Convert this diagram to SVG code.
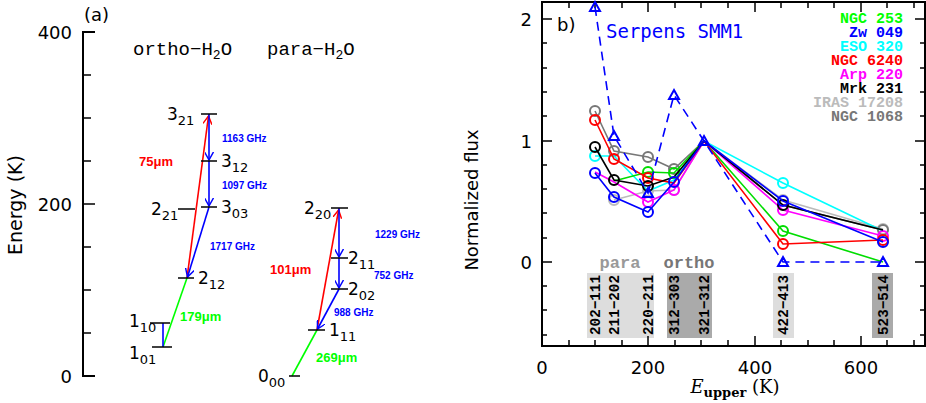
<svg xmlns="http://www.w3.org/2000/svg" width="926" height="403" viewBox="0 0 926 403">
<style>
text{font-family:"Liberation Mono","DejaVu Sans Mono",monospace}
.ax{stroke:#000;stroke-width:2;fill:none}
.tk{stroke:#000;stroke-width:1.5}
.lv{stroke:#000;stroke-width:1.5}
.num{font-family:"DejaVu Sans","Liberation Sans",sans-serif;font-size:18px}
.lvl{font-family:"DejaVu Sans","Liberation Sans",sans-serif;font-size:17px}
.sub{font-size:13px}
.ghz{font-family:"Liberation Sans",sans-serif;font-weight:bold;font-size:10px;fill:#00f}
.um{font-family:"Liberation Sans",sans-serif;font-weight:bold;font-size:13px}
.c{fill:none;stroke-width:2}
.s{fill:none;stroke-width:1.6}
.leg{font-weight:bold;font-size:15px;text-anchor:end}
.rl{font-family:"Liberation Sans",sans-serif;font-weight:bold;font-size:15px}
</style>
<defs>
<marker id="ab" viewBox="0 0 10 10" refX="9" refY="5" markerWidth="9" markerHeight="9" markerUnits="userSpaceOnUse" orient="auto"><path d="M0,0 L9,5 L0,10" fill="none" stroke="#00f" stroke-width="1.6"/></marker>
<marker id="ar" viewBox="0 0 10 10" refX="9" refY="5" markerWidth="9" markerHeight="9" markerUnits="userSpaceOnUse" orient="auto"><path d="M0,0 L9,5 L0,10" fill="none" stroke="#f00" stroke-width="1.6"/></marker>
</defs>
<rect width="926" height="403" fill="#fff"/>

<g id="axis-a">
<path class="ax" d="M95,32 H83 V376 H95"/>
<path class="tk" d="M83,75 H91 M83,118 H91 M83,161 H91 M83,204 H95 M83,247 H91 M83,290 H91 M83,333 H91"/>
<text class="num" x="72" y="39" text-anchor="end">400</text>
<text class="num" x="72" y="211" text-anchor="end">200</text>
<text class="num" x="72" y="383" text-anchor="end">0</text>
<text x="22" y="205" text-anchor="middle" transform="rotate(-90 22 205)" style="font-family:'DejaVu Sans',sans-serif;font-size:19px">Energy (K)</text>
<text x="84" y="21" style="font-family:'DejaVu Sans',sans-serif;font-size:18px">(a)</text>
<text x="133" y="55" font-size="19">ortho−H<tspan font-size="13" dy="4">2</tspan><tspan dy="-4">O</tspan></text>
<text x="267" y="55" font-size="19">para−H<tspan font-size="13" dy="4">2</tspan><tspan dy="-4">O</tspan></text>
</g>

<g id="connectors-a" stroke-width="1.6" fill="none">
<line x1="187" y1="278" x2="208.5" y2="116" stroke="#f00" marker-end="url(#ar)"/>
<line x1="209" y1="114" x2="209" y2="160" stroke="#00f" marker-end="url(#ab)"/>
<line x1="209" y1="161" x2="209" y2="206" stroke="#00f" marker-end="url(#ab)"/>
<line x1="209" y1="207" x2="187.5" y2="277" stroke="#00f" marker-end="url(#ab)"/>
<line x1="163" y1="347" x2="187" y2="278" stroke="#0f0"/>
<line x1="163" y1="323" x2="163" y2="347" stroke="#00f"/>
<line x1="317" y1="330" x2="338.6" y2="210" stroke="#f00" marker-end="url(#ar)"/>
<line x1="339" y1="208" x2="339" y2="257" stroke="#00f" marker-end="url(#ab)"/>
<line x1="339" y1="258" x2="339" y2="288" stroke="#00f" marker-end="url(#ab)"/>
<line x1="339" y1="289" x2="317.5" y2="329" stroke="#00f" marker-end="url(#ab)"/>
<line x1="292" y1="376" x2="317" y2="330" stroke="#0f0"/>
</g>

<g id="lv-321"><line class="lv" x1="201" y1="114" x2="217" y2="114"/><text class="lvl" x="167" y="120">3<tspan class="sub" dy="5">21</tspan></text></g>
<g id="lv-312"><line class="lv" x1="201" y1="161" x2="217" y2="161"/><text class="lvl" x="221" y="167">3<tspan class="sub" dy="5">12</tspan></text></g>
<g id="lv-221"><line class="lv" x1="178" y1="209" x2="195" y2="209"/><text class="lvl" x="151" y="215">2<tspan class="sub" dy="5">21</tspan></text></g>
<g id="lv-303"><line class="lv" x1="201" y1="207" x2="217" y2="207"/><text class="lvl" x="221" y="213">3<tspan class="sub" dy="5">03</tspan></text></g>
<g id="lv-212"><line class="lv" x1="178" y1="278" x2="194" y2="278"/><text class="lvl" x="198" y="284">2<tspan class="sub" dy="5">12</tspan></text></g>
<g id="lv-110"><line class="lv" x1="150" y1="323" x2="170" y2="323"/><text class="lvl" x="129" y="327">1<tspan class="sub" dy="5">10</tspan></text></g>
<g id="lv-101"><line class="lv" x1="152" y1="347" x2="172" y2="347"/><text class="lvl" x="129" y="359">1<tspan class="sub" dy="5">01</tspan></text></g>
<g id="lv-220"><line class="lv" x1="331" y1="208" x2="348" y2="208"/><text class="lvl" x="304" y="214">2<tspan class="sub" dy="5">20</tspan></text></g>
<g id="lv-211"><line class="lv" x1="331" y1="258" x2="348" y2="258"/><text class="lvl" x="348" y="264">2<tspan class="sub" dy="5">11</tspan></text></g>
<g id="lv-202"><line class="lv" x1="331" y1="289" x2="348" y2="289"/><text class="lvl" x="348" y="295">2<tspan class="sub" dy="5">02</tspan></text></g>
<g id="lv-111"><line class="lv" x1="308" y1="330" x2="325" y2="330"/><text class="lvl" x="329" y="336">1<tspan class="sub" dy="5">11</tspan></text></g>
<g id="lv-000"><line class="lv" x1="289" y1="376" x2="300" y2="376"/><text class="lvl" x="258" y="382">0<tspan class="sub" dy="5">00</tspan></text></g>

<g id="labels-a">
<text class="um" x="139" y="166" fill="#f00">75μm</text>
<text class="ghz" x="222" y="142">1163 GHz</text>
<text class="ghz" x="222" y="189">1097 GHz</text>
<text class="ghz" x="210" y="250">1717 GHz</text>
<text class="um" x="180" y="321" fill="#0f0" font-size="12">179μm</text>
<text class="ghz" x="375" y="238">1229 GHz</text>
<text class="um" x="270" y="274" fill="#f00">101μm</text>
<text class="ghz" x="374" y="279">752 GHz</text>
<text class="ghz" x="334" y="316">988 GHz</text>
<text class="um" x="316" y="362" fill="#0f0" font-size="12">269μm</text>
</g>

<g id="bars-b">
<rect x="587" y="273" width="67" height="65" fill="#ddd"/>
<rect x="667" y="273" width="45" height="65" fill="#aaa"/>
<rect x="773" y="273" width="21" height="65" fill="#ddd"/>
<rect x="872" y="273" width="21" height="65" fill="#aaa"/>
<g class="rl">
<text transform="translate(600 305) rotate(-90)" text-anchor="middle" textLength="60" lengthAdjust="spacingAndGlyphs">202−111</text>
<text transform="translate(619 305) rotate(-90)" text-anchor="middle" textLength="60" lengthAdjust="spacingAndGlyphs">211−202</text>
<text transform="translate(653 305) rotate(-90)" text-anchor="middle" textLength="60" lengthAdjust="spacingAndGlyphs">220−211</text>
<text transform="translate(679 305) rotate(-90)" text-anchor="middle" textLength="60" lengthAdjust="spacingAndGlyphs">312−303</text>
<text transform="translate(709 305) rotate(-90)" text-anchor="middle" textLength="60" lengthAdjust="spacingAndGlyphs">321−312</text>
<text transform="translate(788 305) rotate(-90)" text-anchor="middle" textLength="60" lengthAdjust="spacingAndGlyphs">422−413</text>
<text transform="translate(888 305) rotate(-90)" text-anchor="middle" textLength="60" lengthAdjust="spacingAndGlyphs">523−514</text>
</g>
<text x="620" y="268" text-anchor="middle" font-size="17" font-weight="bold" fill="#999">para</text>
<text x="689" y="268" text-anchor="middle" font-size="17" font-weight="bold" fill="#777">ortho</text>
</g>

<g id="axis-b">
<rect x="542" y="2" width="383" height="344" class="ax"/>
<path class="tk" d="M542,19 H552 M542,141 H552 M542,262 H552 M925,19 H915 M925,141 H915 M925,262 H915
M542,43 H547 M542,68 H547 M542,92 H547 M542,116 H547 M542,165 H547 M542,189 H547 M542,213 H547 M542,238 H547 M542,286 H547 M542,310 H547 M542,335 H547
M925,43 H920 M925,68 H920 M925,92 H920 M925,116 H920 M925,165 H920 M925,189 H920 M925,213 H920 M925,238 H920 M925,286 H920 M925,310 H920 M925,335 H920
M569,346 V340 M595,346 V340 M622,346 V340 M648,346 V336 M675,346 V340 M701,346 V340 M728,346 V340 M755,346 V336 M781,346 V340 M808,346 V340 M834,346 V340 M861,346 V336 M887,346 V340 M914,346 V340
M569,2 V8 M595,2 V8 M622,2 V8 M648,2 V12 M675,2 V8 M701,2 V8 M728,2 V8 M755,2 V12 M781,2 V8 M808,2 V8 M834,2 V8 M861,2 V12 M887,2 V8 M914,2 V8"/>
<text class="num" x="532" y="26" text-anchor="end">2</text>
<text class="num" x="532" y="148" text-anchor="end">1</text>
<text class="num" x="532" y="269" text-anchor="end">0</text>
<text class="num" x="542" y="374" text-anchor="middle">0</text>
<text class="num" x="648" y="374" text-anchor="middle">200</text>
<text class="num" x="755" y="374" text-anchor="middle">400</text>
<text class="num" x="861" y="374" text-anchor="middle">600</text>
<text x="478" y="200" text-anchor="middle" transform="rotate(-90 478 200)" style="font-family:'DejaVu Sans',sans-serif;font-size:18px">Normalized flux</text>
<text x="735" y="393" text-anchor="middle" style="font-family:'DejaVu Serif','Liberation Serif',serif;font-size:18px"><tspan font-style="italic">E</tspan><tspan font-size="13" dy="4" font-weight="bold">upper</tspan><tspan dy="-4"> (K)</tspan></text>
<text x="557" y="31" style="font-family:'DejaVu Sans',sans-serif;font-size:18px">b)</text>
</g>

<g id="connectors-b">
<g id="s-iras" stroke="#bbb"><polyline class="s" points="614,200 648,191 674,190 704,141 783,200 883,229"/><circle class="c" cx="614" cy="200" r="5"/><circle class="c" cx="648" cy="191" r="5"/><circle class="c" cx="674" cy="190" r="5"/><circle class="c" cx="783" cy="200" r="5"/><circle class="c" cx="883" cy="229" r="5"/></g>
<g id="s-ngc1068" stroke="#777"><polyline class="s" points="595,111 614,151 648,157 674,169 704,141 783,205 883,230"/><circle class="c" cx="595" cy="111" r="5"/><circle class="c" cx="614" cy="151" r="5"/><circle class="c" cx="648" cy="157" r="5"/><circle class="c" cx="674" cy="169" r="5"/><circle class="c" cx="883" cy="230" r="5"/></g>
<g id="s-eso" stroke="#0ff"><polyline class="s" points="595,156 614,156 648,191 674,180 704,141 783,183 883,231"/><circle class="c" cx="595" cy="156" r="5"/><circle class="c" cx="783" cy="183" r="5"/></g>
<g id="s-ngc253" stroke="#0d0"><polyline class="s" points="614,181 648,172 674,173 704,141 783,231 883,262"/><circle class="c" cx="648" cy="172" r="5"/><circle class="c" cx="674" cy="173" r="5"/><circle class="c" cx="783" cy="231" r="5"/></g>
<g id="s-arp" stroke="#f0f"><polyline class="s" points="595,172 614,182 648,202 674,190 704,141 783,210 883,236"/><circle class="c" cx="648" cy="202" r="5"/><circle class="c" cx="674" cy="190" r="5"/><circle class="c" cx="783" cy="210" r="5"/><circle class="c" cx="883" cy="236" r="5"/></g>
<g id="s-ngc6240" stroke="#f00"><polyline class="s" points="595,120 614,159 648,178 674,183 704,141 783,244 883,240"/><circle class="c" cx="595" cy="120" r="5"/><circle class="c" cx="614" cy="159" r="5"/><circle class="c" cx="648" cy="178" r="5"/><circle class="c" cx="783" cy="244" r="5"/><circle class="c" cx="883" cy="240" r="5"/></g>
<g id="s-mrk" stroke="#000"><polyline class="s" points="595,147 614,180 648,186 674,177 704,141 783,205 883,230"/><circle class="c" cx="595" cy="147" r="5"/><circle class="c" cx="614" cy="180" r="5"/><circle class="c" cx="648" cy="186" r="5"/><circle class="c" cx="783" cy="205" r="5"/></g>
<g id="s-zw" stroke="#00f"><polyline class="s" points="595,173 614,197 648,212 674,182 704,141 783,201 883,242"/><circle class="c" cx="595" cy="173" r="5"/><circle class="c" cx="614" cy="197" r="5"/><circle class="c" cx="648" cy="212" r="5"/><circle class="c" cx="674" cy="182" r="5"/><circle class="c" cx="783" cy="201" r="5"/><circle class="c" cx="883" cy="242" r="5"/></g>
<g id="s-serpens" stroke="#00f"><polyline class="s" stroke-dasharray="9,6" points="595,7 614,136 648,193 674,95 704,141 783,262 883,262"/>
<path class="c" stroke-width="1.6" d="M595,2 l5,9 h-10z M614,131 l5,9 h-10z M648,188 l5,9 h-10z M674,90 l5,9 h-10z M704,136 l5,9 h-10z M783,257 l5,9 h-10z M883,257 l5,9 h-10z"/></g>
</g>

<g id="legend-b" class="leg">
<text x="903" y="23" fill="#0f0">NGC 253</text>
<text x="903" y="37" fill="#00f">Zw 049</text>
<text x="903" y="51" fill="#0ff">ESO 320</text>
<text x="903" y="65" fill="#f00">NGC 6240</text>
<text x="903" y="79" fill="#f0f">Arp 220</text>
<text x="903" y="93" fill="#000">Mrk 231</text>
<text x="903" y="107" fill="#bbb">IRAS 17208</text>
<text x="903" y="121" fill="#777">NGC 1068</text>
<text x="606" y="38" fill="#00f" style="font-family:'DejaVu Sans Mono',monospace;font-size:19px;font-weight:normal;text-anchor:start">Serpens SMM1</text>
</g>
</svg>
